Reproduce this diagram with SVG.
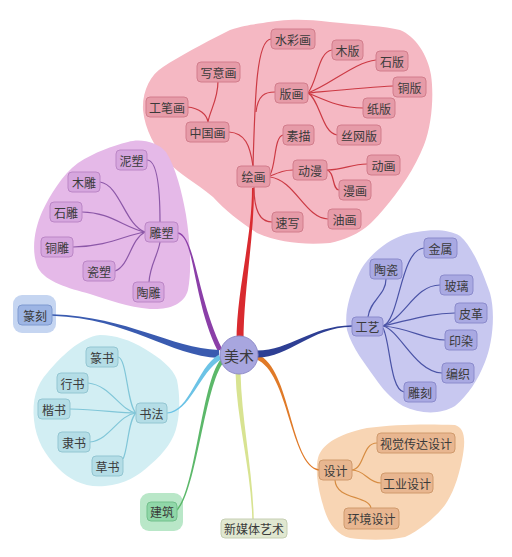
<svg xmlns="http://www.w3.org/2000/svg" width="512" height="557" viewBox="0 0 512 557">
<style>
text{font-family:"Noto Sans CJK SC","Noto Sans",sans-serif;font-size:12px;fill:#3a3a3a;text-anchor:middle;dominant-baseline:central}
.pk rect{fill:#e69ba8;stroke:#d27d8c;stroke-width:1}
.pu rect{fill:#d6a6de;stroke:#bb86c6;stroke-width:1}
.cy rect{fill:#b4dde6;stroke:#93c6d2;stroke-width:1}
.vi rect{fill:#a9a9e2;stroke:#8b8bcc;stroke-width:1}
.or rect{fill:#e8b690;stroke:#d09a6c;stroke-width:1}
.thin{fill:none;stroke-width:1.2}
.lr{stroke:#cc3a44}.lp{stroke:#8c58a8}.lc{stroke:#80c6d8}.lv{stroke:#4a53a6}.lo{stroke:#d68c42}
</style>
<!-- blobs -->
<g id="blobs">
<path d="M263,23 C280,20 300,18 330,22 C360,25 385,26 400,30 C415,36 428,55 431,75 C434,95 432,125 424,145 C415,168 400,190 383,210 C370,225 360,236 330,243 C305,245 280,243 257,233 C240,222 225,210 213,197 C195,182 180,175 168,162 C155,148 145,130 143,110 C142,92 150,75 163,67 C180,56 200,45 230,30 C245,25 255,24 263,23 Z" fill="#f5b8c3"/>
<path d="M128,142 C140,138 158,142 166,152 C176,168 182,192 186,215 C190,240 192,270 188,290 C184,305 168,310 150,309 C128,307 108,300 90,294 C68,288 46,282 38,268 C31,252 34,230 42,212 C50,195 62,175 78,163 C95,152 112,146 128,142 Z" fill="#e5b9e8"/>
<path d="M100,335 C115,335 130,340 145,349 C160,358 173,368 177,380 C180,395 180,412 177,425 C174,440 165,452 150,465 C138,476 125,484 105,486 C85,488 70,480 58,468 C45,455 36,440 34,420 C32,400 36,385 48,372 C60,358 80,337 100,335 Z" fill="#d2eef3"/>
<rect x="13" y="295" width="43" height="38" rx="9" fill="#c5d5f1"/>
<rect x="140" y="493" width="43" height="38" rx="9" fill="#b9e7c8"/>
<path d="M417,232 C435,229 450,230 460,236 C472,246 482,270 490,293 C496,315 492,345 485,362 C478,380 468,395 455,406 C440,415 420,414 403,406 C390,398 382,388 375,378 C366,365 352,348 347,330 C344,312 350,295 356,280 C362,265 370,255 387,243 C398,236 408,233 417,232 Z" fill="#c8c8f0"/>
<path d="M367,428 C395,424 430,424 455,425 C465,428 466,440 462,460 C458,480 452,495 445,505 C435,518 420,530 405,537 C385,541 365,540 350,538 C338,535 328,525 323,505 C318,488 315,470 318,458 C322,445 335,435 367,428 Z" fill="#f8d5b4"/>
</g>
<!-- connectors -->
<g id="connectors">
<!-- main branches -->
<path d="M243.5,342 C243.5,290 254,240 254,188 L252,188 C252,240 236.5,290 236.5,342 Z" fill="#d92a2f"/>
<path d="M222.2,348.9 C197.2,298.9 195.1,235.3 178.1,232.3 L177.9,233.7 C194.9,236.7 192.8,301.1 217.8,351.1 Z" fill="#8b3fa8"/>
<path d="M219,350 C170,348 130,317.25 52,314.25 L52,315.75 C130,318.75 170,356 219,358 Z" fill="#3a5bb0"/>
<path d="M221.3,359.2 C199.3,372.2 190,412.6 167,413.6 L167,412.4 C190,411.4 196.7,367.8 218.7,354.8 Z" fill="#6cc3e6"/>
<path d="M223.6,362.2 C204.6,386.2 196.5,490.5 177.5,510.5 L176.5,509.5 C195.5,489.5 201.4,383.8 220.4,359.8 Z" fill="#5cb86a"/>
<path d="M240.5,372 C241.5,420 252.75,470 253.75,519 L252.25,519 C251.25,470 236.5,420 235.5,372 Z" fill="#d8e391"/>
<path d="M256.1,359.3 C289.1,372.3 289.9,465.7 318.9,470.7 L319.1,469.3 C290.1,464.3 290.9,367.7 257.9,354.7 Z" fill="#e07a28"/>
<path d="M257,350.5 C290,350.5 310,326.25 352,325.25 L352,326.75 C310,327.75 290,357.5 257,357.5 Z" fill="#2e3f94"/>
<!-- pink sub -->
<path class="thin lr" d="M253,166 C255,100 256,40 271,39"/>
<path class="thin lr" d="M256,112 C258,95 265,92 275,92"/>
<path class="thin lr" d="M229,132 C245,133 250,145 253,166"/>
<path class="thin lr" d="M218,81 C218,100 210,110 208,122"/>
<path class="thin lr" d="M187,107 C200,108 207,115 208,122"/>
<path class="thin lr" d="M270,175 C276,165 274,137 283,135"/>
<path class="thin lr" d="M270,176 C280,172 285,170 293,170"/>
<path class="thin lr" d="M270,177 C295,180 305,218 328,219"/>
<path class="thin lr" d="M254,187 C254,210 260,222 272,222"/>
<path class="thin lr" d="M308,93 C318,80 318,52 332,50"/>
<path class="thin lr" d="M308,93 C330,85 355,62 376,60"/>
<path class="thin lr" d="M308,93 C340,90 370,87 393,86"/>
<path class="thin lr" d="M308,93 C325,100 340,108 363,108"/>
<path class="thin lr" d="M308,93 C320,100 322,133 337,135"/>
<path class="thin lr" d="M327,170 C345,170 350,164 367,164"/>
<path class="thin lr" d="M327,170 C335,172 332,190 339,190"/>
<!-- purple sub -->
<path class="thin lp" d="M147,160 C157,160 160,190 160,222"/>
<path class="thin lp" d="M100,182 C120,185 125,225 145,232"/>
<path class="thin lp" d="M82,212 C110,212 125,228 145,232"/>
<path class="thin lp" d="M73,247 C110,246 125,235 145,232"/>
<path class="thin lp" d="M115,271 C130,265 130,240 145,232"/>
<path class="thin lp" d="M149,282 C150,265 158,255 160,242"/>
<!-- cyan sub -->
<path class="thin lc" d="M118,357 C127,358 127,405 136,413"/>
<path class="thin lc" d="M88,383 C110,385 120,410 136,413"/>
<path class="thin lc" d="M70,409 C100,410 120,413 136,413"/>
<path class="thin lc" d="M90,442 C110,440 118,415 136,413"/>
<path class="thin lc" d="M123,459 C128,450 128,420 136,413"/>
<!-- violet sub -->
<path class="thin lv" d="M386,279 C386,295 370,300 368,317"/>
<path class="thin lv" d="M383,326 C400,320 400,250 424,248"/>
<path class="thin lv" d="M383,326 C405,318 415,285 440,285"/>
<path class="thin lv" d="M383,326 C410,320 430,313 455,313"/>
<path class="thin lv" d="M383,326 C410,328 425,340 445,340"/>
<path class="thin lv" d="M383,326 C400,330 415,372 442,373"/>
<path class="thin lv" d="M383,328 C390,340 390,390 404,392"/>
<!-- orange sub -->
<path class="thin lo" d="M352,470 C365,468 362,443 377,443"/>
<path class="thin lo" d="M352,470 C365,470 368,483 381,483"/>
<path class="thin lo" d="M335,480 C336,500 368,495 371,508"/>
</g>
<!-- nodes -->
<g id="n-meishu"><circle cx="239" cy="355" r="19" fill="#a8a6df" stroke="#8f8cc8" stroke-width="1"/><text x="239" y="355" style="font-size:15px">美术</text></g>
<g class="pk">
<g id="n-shuicaihua"><rect x="271" y="29" width="44" height="20" rx="4"/><text x="293" y="39">水彩画</text></g>
<g id="n-muban"><rect x="332" y="40" width="31" height="20" rx="4"/><text x="347.5" y="50">木版</text></g>
<g id="n-shiban"><rect x="376" y="51" width="32" height="20" rx="4"/><text x="392" y="61">石版</text></g>
<g id="n-tongban"><rect x="393" y="77" width="33" height="20" rx="4"/><text x="409.5" y="87">铜版</text></g>
<g id="n-zhiban"><rect x="363" y="98" width="32" height="20" rx="4"/><text x="379" y="108">纸版</text></g>
<g id="n-siwangban"><rect x="337" y="125" width="44" height="20" rx="4"/><text x="359" y="135">丝网版</text></g>
<g id="n-banhua"><rect x="275" y="83" width="33" height="20" rx="4"/><text x="291.5" y="93">版画</text></g>
<g id="n-xieyihua"><rect x="197" y="62" width="43" height="20" rx="4"/><text x="218.5" y="72">写意画</text></g>
<g id="n-gongbihua"><rect x="146" y="97" width="42" height="20" rx="4"/><text x="167" y="107">工笔画</text></g>
<g id="n-zhongguohua"><rect x="186" y="122" width="43" height="20" rx="4"/><text x="207.5" y="132">中国画</text></g>
<g id="n-sumiao"><rect x="283" y="125" width="31" height="20" rx="4"/><text x="298.5" y="135">素描</text></g>
<g id="n-huihua"><rect x="237" y="166" width="33" height="21" rx="4"/><text x="253.5" y="176.5">绘画</text></g>
<g id="n-dongman"><rect x="293" y="160" width="34" height="20" rx="4"/><text x="310" y="170">动漫</text></g>
<g id="n-donghua"><rect x="367" y="155" width="33" height="20" rx="4"/><text x="383.5" y="165">动画</text></g>
<g id="n-manhua"><rect x="339" y="180" width="32" height="20" rx="4"/><text x="355" y="190">漫画</text></g>
<g id="n-suxie"><rect x="272" y="212" width="31" height="20" rx="4"/><text x="287.5" y="222">速写</text></g>
<g id="n-youhua"><rect x="328" y="209" width="33" height="20" rx="4"/><text x="344.5" y="219">油画</text></g>
</g>
<g class="pu">
<g id="n-diaosu"><rect x="145" y="222" width="33" height="20" rx="4"/><text x="161.5" y="232">雕塑</text></g>
<g id="n-nisu"><rect x="116" y="150" width="31" height="20" rx="4"/><text x="131.5" y="160">泥塑</text></g>
<g id="n-mudiao"><rect x="68" y="172" width="32" height="20" rx="4"/><text x="84" y="182">木雕</text></g>
<g id="n-shidiao"><rect x="50" y="202" width="32" height="20" rx="4"/><text x="66" y="212">石雕</text></g>
<g id="n-tongdiao"><rect x="41" y="237" width="32" height="20" rx="4"/><text x="57" y="247">铜雕</text></g>
<g id="n-cisu"><rect x="83" y="261" width="32" height="20" rx="4"/><text x="99" y="271">瓷塑</text></g>
<g id="n-taodiao"><rect x="133" y="282" width="31" height="20" rx="4"/><text x="148.5" y="292">陶雕</text></g>
</g>
<g id="n-zhuanke"><rect x="18" y="305" width="34" height="20" rx="4" fill="#9db5e4" stroke="#7f9ad0"/><text x="35" y="315">篆刻</text></g>
<g class="cy">
<g id="n-shufa"><rect x="136" y="403" width="31" height="20" rx="4"/><text x="151.5" y="413">书法</text></g>
<g id="n-zhuanshu"><rect x="86" y="347" width="32" height="20" rx="4"/><text x="102" y="357">篆书</text></g>
<g id="n-xingshu"><rect x="57" y="373" width="31" height="20" rx="4"/><text x="72.5" y="383">行书</text></g>
<g id="n-kaishu"><rect x="38" y="399" width="32" height="20" rx="4"/><text x="54" y="409">楷书</text></g>
<g id="n-lishu"><rect x="58" y="432" width="32" height="20" rx="4"/><text x="74" y="442">隶书</text></g>
<g id="n-caoshu"><rect x="92" y="456" width="31" height="20" rx="4"/><text x="107.5" y="466">草书</text></g>
</g>
<g id="n-jianzhu"><rect x="147" y="502" width="30" height="19" rx="4" fill="#90d7a8" stroke="#72c08c"/><text x="162" y="511.5">建筑</text></g>
<g id="n-xinmeiti"><rect x="221" y="519" width="66" height="19" rx="4" fill="#e0e7d0" stroke="#c6cfb3"/><text x="254" y="528.5">新媒体艺术</text></g>
<g class="vi">
<g id="n-gongyi"><rect x="352" y="317" width="31" height="19" rx="4"/><text x="367.5" y="326.5">工艺</text></g>
<g id="n-taoci"><rect x="370" y="259" width="32" height="20" rx="4"/><text x="386" y="269">陶瓷</text></g>
<g id="n-jinshu"><rect x="424" y="238" width="33" height="20" rx="4"/><text x="440.5" y="248">金属</text></g>
<g id="n-boli"><rect x="440" y="275" width="33" height="20" rx="4"/><text x="456.5" y="285">玻璃</text></g>
<g id="n-pige"><rect x="455" y="303" width="32" height="20" rx="4"/><text x="471" y="313">皮革</text></g>
<g id="n-yinran"><rect x="445" y="330" width="32" height="20" rx="4"/><text x="461" y="340">印染</text></g>
<g id="n-bianzhi"><rect x="442" y="363" width="32" height="20" rx="4"/><text x="458" y="373">编织</text></g>
<g id="n-diaoke"><rect x="404" y="382" width="32" height="20" rx="4"/><text x="420" y="392">雕刻</text></g>
</g>
<g class="or">
<g id="n-sheji"><rect x="319" y="460" width="33" height="20" rx="4"/><text x="335.5" y="470">设计</text></g>
<g id="n-shijue"><rect x="377" y="433" width="78" height="20" rx="4"/><text x="416" y="443">视觉传达设计</text></g>
<g id="n-gongye"><rect x="381" y="473" width="52" height="20" rx="4"/><text x="407" y="483">工业设计</text></g>
<g id="n-huanjing"><rect x="344" y="508" width="55" height="21" rx="4"/><text x="371.5" y="518.5">环境设计</text></g>
</g>
</svg>
